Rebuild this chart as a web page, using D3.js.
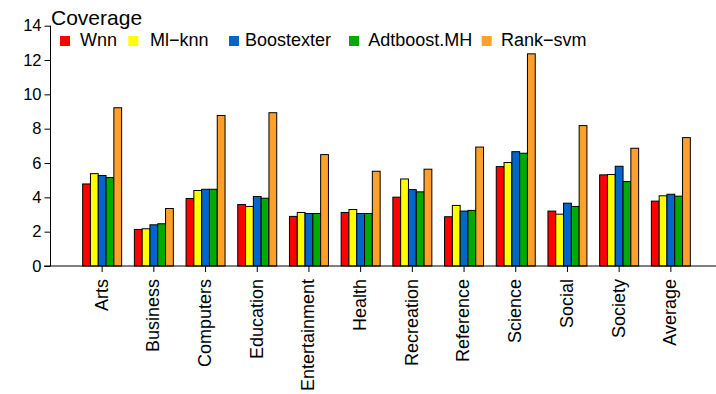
<!DOCTYPE html>
<html><head><meta charset="utf-8">
<script src="https://cdn.jsdelivr.net/npm/d3@7"></script>
<style>body{margin:0;background:#fff;} text{font-family:"Liberation Sans",Arial,sans-serif;fill:#000;}</style>
</head><body>
<svg id="c" width="716" height="394"></svg>
<script>
const categories = ["Arts","Business","Computers","Education","Entertainment","Health","Recreation","Reference","Science","Social","Society","Average"];
const seriesNames = ["Wnn","Ml\u2212knn","Boostexter","Adtboost.MH","Rank\u2212svm"];
const seriesColors = ["#FF0000","#FFFF00","#0066CC","#00AA00","#FFA02A"];
const wnn        = [4.78,2.13,3.93,3.58,2.89,3.12,4.01,2.87,5.79,3.20,5.31,3.78];
const mlknn      = [5.38,2.17,4.40,3.47,3.12,3.29,5.07,3.53,6.03,3.02,5.33,4.09];
const boostexter = [5.27,2.40,4.47,4.05,3.06,3.06,4.45,3.20,6.66,3.66,5.81,4.18];
const adtboost   = [5.15,2.46,4.47,3.95,3.06,3.06,4.32,3.24,6.57,3.47,4.92,4.07];
const ranksvm    = [9.22,3.35,8.77,8.93,6.49,5.52,5.64,6.93,12.36,8.18,6.86,7.48];
const yTicks = [0,2,4,6,8,10,12,14];
const yTitle = "Coverage";

const series = [wnn, mlknn, boostexter, adtboost, ranksvm];
const svg = d3.select("#c");

const y = d3.scaleLinear().domain([0,14]).range([266,25.7]);
const x = d3.scaleBand().domain(categories).range([76.3,696.7]).paddingInner(0.246).paddingOuter(0.123);
const xs = d3.scaleBand().domain(d3.range(series.length)).range([0,x.bandwidth()]);

// bars
const g = svg.append("g");
categories.forEach((c,i)=>{
  series.forEach((s,j)=>{
    g.append("rect")
      .attr("x", x(c)+xs(j))
      .attr("y", y(s[i]))
      .attr("width", xs.bandwidth())
      .attr("height", y(0)-y(s[i]))
      .attr("fill", seriesColors[j])
      .attr("stroke","#000").attr("stroke-width",1);
  });
});

// baseline
svg.append("line").attr("x1",44).attr("x2",716).attr("y1",y(0)).attr("y2",y(0)).attr("stroke","#000");

// y axis
const yAxis = d3.axisLeft(y).tickValues(yTicks).tickSize(6).tickPadding(3).tickFormat(d3.format("d"));
const ya = svg.append("g").attr("transform","translate(50.5,0)").call(yAxis);
ya.select(".domain").attr("d", `M0,${y(14)}V${y(0)}`).attr("stroke","#000");
ya.selectAll(".tick line").attr("stroke","#000");
ya.selectAll(".tick text").attr("font-size","16.5px").attr("font-family","Liberation Sans, Arial, sans-serif").attr("fill","#000");

// x axis
const xAxis = d3.axisBottom(x).tickSize(6).tickSizeOuter(0).tickPadding(0);
const xa = svg.append("g").attr("transform",`translate(0,${y(0)})`).call(xAxis);
xa.select(".domain").remove();
xa.selectAll(".tick line").attr("stroke","#000");
xa.selectAll(".tick text")
  .attr("font-size","18px").attr("font-family","Liberation Sans, Arial, sans-serif").attr("fill","#000")
  .attr("text-anchor","end")
  .attr("transform","rotate(-90)")
  .attr("x",-13).attr("y",0).attr("dy","0.3em");

// title
svg.append("text").attr("x",51).attr("y",24.5).attr("font-size","21px").text(yTitle);

// legend
const legX = [60,128.3,229,349,481.7];
const textX = [80,150,245,368.3,501];
seriesNames.forEach((n,j)=>{
  svg.append("rect").attr("x",legX[j]).attr("y",36).attr("width",10).attr("height",10).attr("fill",seriesColors[j]);
  svg.append("text").attr("x",textX[j]).attr("y",45.5).attr("font-size","18px").text(n);
});
</script>
</body></html>
